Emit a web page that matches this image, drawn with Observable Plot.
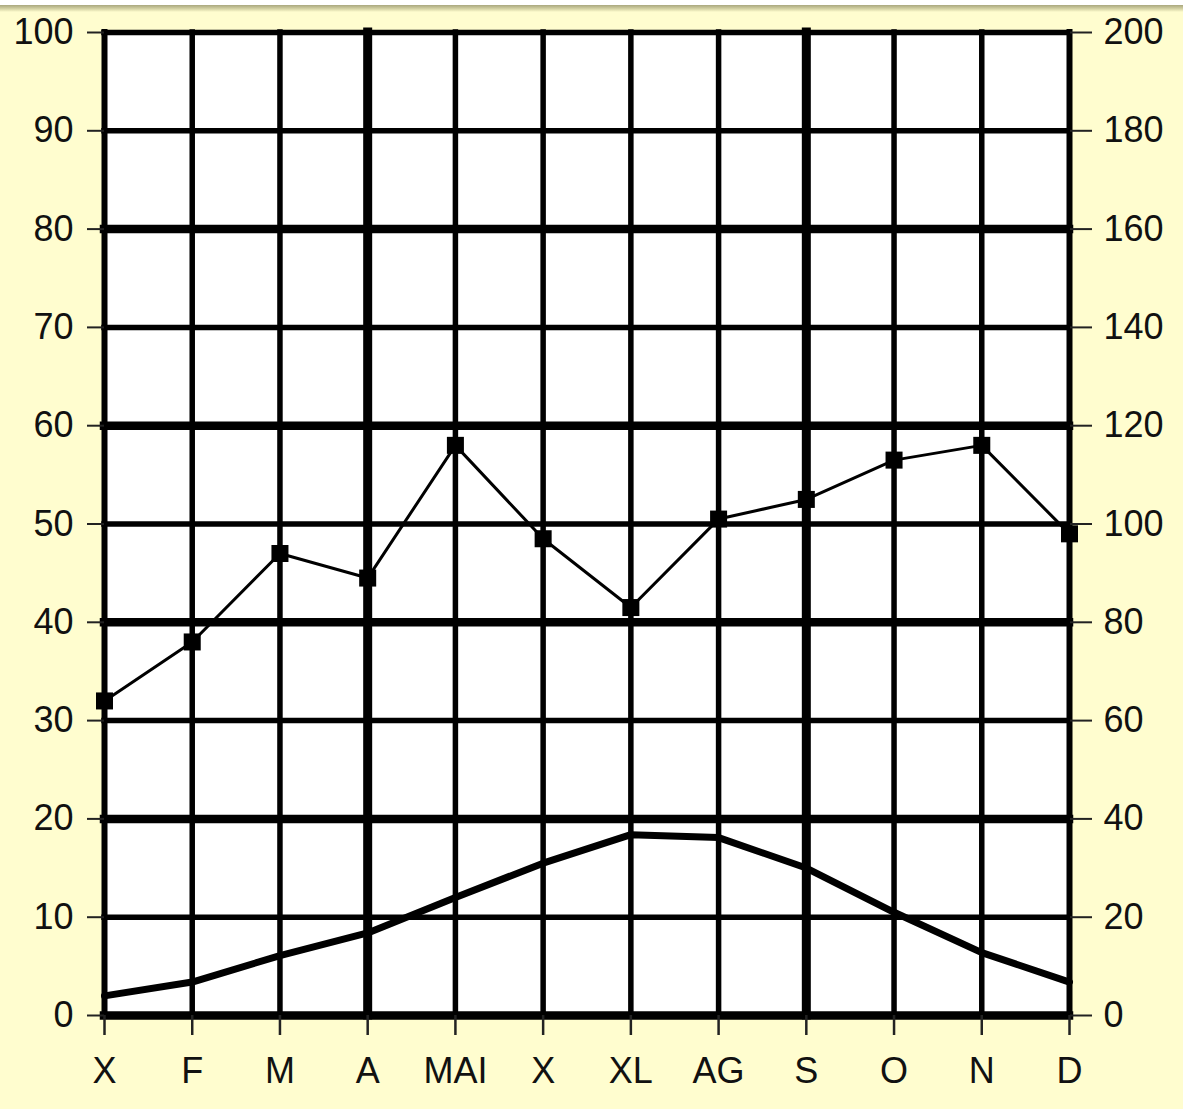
<!DOCTYPE html>
<html>
<head>
<meta charset="utf-8">
<script src="https://cdn.jsdelivr.net/npm/d3@7"></script>
<script src="https://cdn.jsdelivr.net/npm/@observablehq/plot@0.6"></script>
<style>
  html, body { margin: 0; padding: 0; background: #FFFDCF; }
  #chart svg { display: block; }
</style>
</head>
<body>
<div id="chart"></div>
<script>
// Month labels (Romanian-style abbreviations as in the reference)
const months = ["X", "F", "M", "A", "MAI", "X", "XL", "AG", "S", "O", "N", "D"];
// Temperature (left axis, °C) – thick line
const temperature = [2.0, 3.4, 6.1, 8.4, 12.0, 15.5, 18.4, 18.1, 15.0, 10.5, 6.4, 3.4];
// Precipitation (right axis, mm) – thin line with square markers
const precipitation = [64, 76, 94, 89, 116, 97, 83, 101, 105, 113, 116, 98];
// Left-axis ticks and right-axis ticks
const leftTicks = [0, 10, 20, 30, 40, 50, 60, 70, 80, 90, 100];
const rightTicks = [0, 20, 40, 60, 80, 100, 120, 140, 160, 180, 200];
// Gridlines drawn heavier in the reference
const thickY = [0, 20, 40, 60, 80];
const thickX = [3, 8];

const rightRatio = 200 / 100; // right axis max / left axis max

const idx = d3.range(months.length);
const tempData = idx.map(i => ({i, v: temperature[i]}));
const precData = idx.map(i => ({i, v: precipitation[i] / rightRatio}));

const font = "'Liberation Sans', Arial, Helvetica, sans-serif";

const chart = Plot.plot({
  width: 1183,
  height: 1109,
  marginLeft: 104,
  marginRight: 114,
  marginTop: 32,
  marginBottom: 94,
  style: {
    background: "linear-gradient(to bottom, #ffffff 0px, #ffffff 5px, #a9a77e 5px, #d6d4a6 9px, #FFFDCF 12px, #FFFDCF 100%)",
    fontFamily: font,
    fontSize: "36px",
    color: "#111"
  },
  x: {type: "point", domain: idx, padding: 0, round: false, axis: null, label: null},
  y: {domain: [0, 100], axis: null, label: null},
  marks: [
    // white plotting area
    Plot.frame({fill: "white", stroke: null}),
    // horizontal gridlines
    Plot.ruleY(leftTicks, {
      y: d => d,
      stroke: "black",
      strokeWidth: d => thickY.includes(d) ? 8.5 : 5.5,
      strokeLinecap: "square"
    }),
    // vertical gridlines
    Plot.ruleX(idx, {
      x: d => d,
      stroke: "black",
      strokeWidth: d => thickX.includes(d) ? 9 : (d === 0 || d === 11 ? 6 : 5.5),
      strokeLinecap: "square"
    }),
    // temperature line
    Plot.line(tempData, {x: "i", y: "v", stroke: "black", strokeWidth: 7, strokeLinejoin: "round"}),
    // precipitation line + markers
    Plot.line(precData, {x: "i", y: "v", stroke: "black", strokeWidth: 3}),
    Plot.dot(precData, {x: "i", y: "v", symbol: "square", r: 9.6, fill: "black", stroke: null}),
    // axes
    Plot.axisY({
      anchor: "left", ticks: leftTicks, tickSize: 17, tickPadding: 14, label: null,
      tickFormat: d => String(d), fontSize: 36, fill: "#111", stroke: "#222", strokeWidth: 2
    }),
    Plot.axisY({
      anchor: "right", ticks: leftTicks, tickSize: 22, tickPadding: 12, label: null,
      tickFormat: d => String(d * rightRatio), fontSize: 36, fill: "#111", stroke: "#222", strokeWidth: 2
    }),
    Plot.axisX({
      anchor: "bottom", ticks: idx, tickSize: 20, tickPadding: 22, label: null,
      tickFormat: i => months[i], fontSize: 36, fill: "#111", stroke: "#222", strokeWidth: 2.5
    })
  ]
});

document.getElementById("chart").appendChild(chart);
</script>
</body>
</html>
